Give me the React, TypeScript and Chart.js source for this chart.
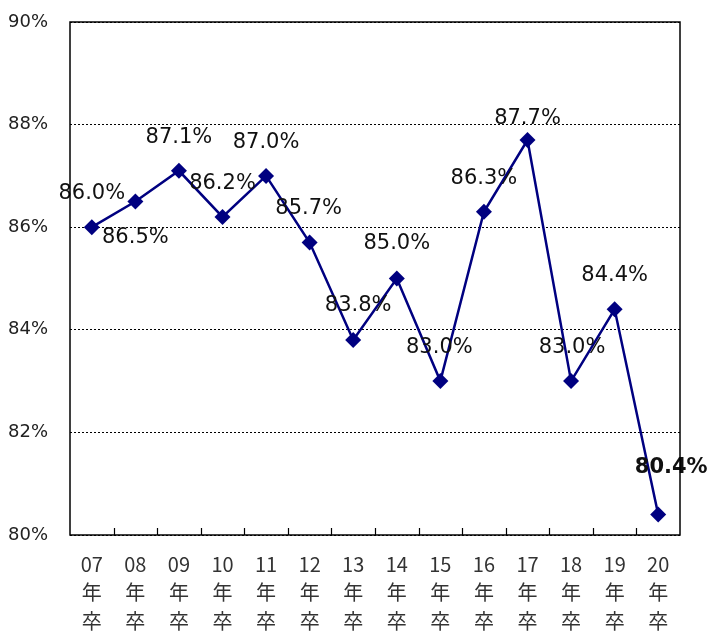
import React, { useEffect, useRef } from "react";
import { Chart, registerables } from "chart.js";

Chart.register(...registerables);

const YEARS = ["07", "08", "09", "10", "11", "12", "13", "14", "15", "16", "17", "18", "19", "20"];
const RATES = [86.0, 86.5, 87.1, 86.2, 87.0, 85.7, 83.8, 85.0, 83.0, 86.3, 87.7, 83.0, 84.4, 80.4];
const Y_TICKS = [80, 82, 84, 86, 88, 90];
// label placement relative to each point: [dx, dy] in px
const LABEL_OFFSETS: [number, number][] = [
  [0, -34], [0, 36], [0, -33], [0, -33], [0, -33], [-1, -34], [5, -35],
  [0, -35], [-1, -34], [0, -33], [0, -21], [1, -34], [0, -34], [13, -47],
];
const BOLD_LABEL = 13;

const NAVY = "#000080";

export default function App() {
  const ref = useRef<HTMLCanvasElement | null>(null);

  useEffect(() => {
    if (!ref.current) return;
    const framePlugin = {
      id: "frame",
      afterDraw(chart: any) {
        const { ctx, chartArea } = chart;
        const xs = chart.scales.x;
        ctx.save();
        ctx.strokeStyle = "#000";
        ctx.lineWidth = 1.5;
        ctx.setLineDash([]);
        ctx.strokeRect(chartArea.left, chartArea.top, chartArea.right - chartArea.left, chartArea.bottom - chartArea.top);
        ctx.lineWidth = 1.2;
        ctx.beginPath();
        for (let i = 1; i < YEARS.length; i++) {
          const x = Math.round((xs.getPixelForValue(i - 1) + xs.getPixelForValue(i)) / 2) + 0.5;
          ctx.moveTo(x, chartArea.bottom - 7);
          ctx.lineTo(x, chartArea.bottom);
        }
        ctx.stroke();
        ctx.restore();
      },
    };
    const labelPlugin = {
      id: "valueLabels",
      afterDatasetsDraw(chart: any) {
        const { ctx } = chart;
        const meta = chart.getDatasetMeta(0);
        ctx.save();
        ctx.textAlign = "center";
        ctx.textBaseline = "middle";
        ctx.fillStyle = "#111";
        meta.data.forEach((pt: any, i: number) => {
          const [dx, dy] = LABEL_OFFSETS[i];
          ctx.font = (i === BOLD_LABEL ? "bold " : "") + "21px 'DejaVu Sans'";
          ctx.fillText(RATES[i].toFixed(1) + "%", pt.x + dx, pt.y + dy);
        });
        ctx.restore();
      },
    };
    const chart = new Chart(ref.current, {
      type: "line",
      data: {
        labels: YEARS.map((y) => [y, "年", "卒"]),
        datasets: [
          {
            data: RATES,
            borderColor: NAVY,
            backgroundColor: NAVY,
            borderWidth: 2.5,
            pointStyle: "rectRot",
            pointRadius: 8,
            pointBorderWidth: 0,
            pointBackgroundColor: NAVY,
            tension: 0,
          },
        ],
      },
      options: {
        animation: false,
        responsive: true,
        maintainAspectRatio: false,
        layout: { padding: { top: 22, right: 27, left: 0, bottom: 0 } },
        plugins: { legend: { display: false }, tooltip: { enabled: false } },
        scales: {
          x: {
            offset: true,
            grid: { display: false, drawTicks: false },
            border: { display: false },
            ticks: {
              padding: 15,
              color: "#333",
              font: { family: "'Noto Sans CJK JP'", size: 20, lineHeight: 1.43 },
              maxRotation: 0,
              autoSkip: false,
            },
            afterFit: (s: any) => {
              s.height = 98;
              s.paddingLeft = 0;
              s.paddingRight = 0;
            },
          },
          y: {
            min: 80,
            max: 90,
            afterBuildTicks: (s: any) => {
              s.ticks = Y_TICKS.map((v) => ({ value: v }));
            },
            grid: { color: "#000", lineWidth: 1, drawTicks: false },
            border: { display: false, dash: [2, 2] },
            ticks: {
              padding: 22,
              color: "#222",
              font: { family: "'DejaVu Sans'", size: 18 },
              callback: (v: any) => v + "%",
            },
            afterFit: (s: any) => {
              s.width = 70;
              s.paddingTop = 0;
              s.paddingBottom = 0;
            },
          },
        },
      },
      plugins: [framePlugin, labelPlugin],
    });
    return () => chart.destroy();
  }, []);

  return (
    <div style={{ position: "fixed", left: 0, top: 0, width: 707, height: 633, background: "#fff" }}>
      <canvas ref={ref} />
    </div>
  );
}
